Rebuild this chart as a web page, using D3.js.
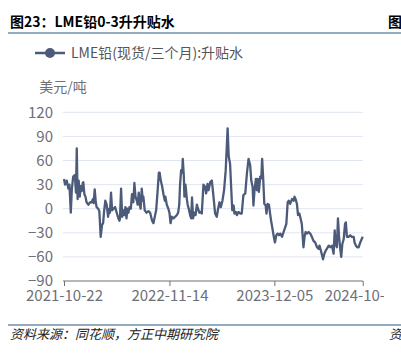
<!DOCTYPE html>
<html><head><meta charset="utf-8">
<script src="https://cdn.jsdelivr.net/npm/d3@7/dist/d3.min.js"></script>
<style>html,body{margin:0;padding:0;background:#fff;}svg{display:block;}</style>
</head><body>
<svg id="c" width="401" height="356"></svg>
<script>
const titleText = "图23：LME铅0-3升升贴水";
const seriesName = "LME铅(现货/三个月):升贴水";
const unitText = "美元/吨";
const sourceText = "资料来源：同花顺，方正中期研究院";
const yTicks = [-90, -60, -30, 0, 30, 60, 90, 120];
const xTickLabels = ["2021-10-22", "2022-11-14", "2023-12-05", "2024-10-25"];
const dates = [
"2021-10-22","2021-10-26","2021-11-01","2021-11-07","2021-11-11","2021-11-16","2021-11-20","2021-11-25","2021-12-01","2021-12-05",
"2021-12-08","2021-12-11","2021-12-15","2021-12-19","2021-12-22","2021-12-26","2021-12-30","2022-01-01","2022-01-05","2022-01-09",
"2022-01-13","2022-01-20","2022-01-26","2022-02-01","2022-02-05","2022-02-08","2022-02-12","2022-02-16","2022-02-19","2022-02-25",
"2022-03-01","2022-03-06","2022-03-11","2022-03-15","2022-03-18","2022-03-23","2022-03-28","2022-04-02","2022-04-07","2022-04-09",
"2022-04-13","2022-04-17","2022-04-22","2022-04-28","2022-05-04","2022-05-10","2022-05-14","2022-05-16","2022-05-20","2022-05-24",
"2022-05-29","2022-06-01","2022-06-05","2022-06-09","2022-06-12","2022-06-16","2022-06-20","2022-06-25","2022-06-29","2022-07-04",
"2022-07-08","2022-07-12","2022-07-17","2022-07-20","2022-07-24","2022-07-28","2022-07-31","2022-08-04","2022-08-08","2022-08-10",
"2022-08-15","2022-08-22","2022-08-29","2022-09-04","2022-09-11","2022-09-16","2022-09-21","2022-09-26","2022-10-01","2022-10-06",
"2022-10-09","2022-10-13","2022-10-18","2022-10-23","2022-10-28","2022-10-30","2022-11-04","2022-11-10","2022-11-14","2022-11-18",
"2022-11-23","2022-11-29","2022-12-05","2022-12-11","2022-12-16","2022-12-20","2022-12-23","2022-12-27","2022-12-31","2023-01-02",
"2023-01-06","2023-01-08","2023-01-12","2023-01-17","2023-01-20","2023-01-24","2023-01-29","2023-02-02","2023-02-05","2023-02-09",
"2023-02-13","2023-02-18","2023-02-23","2023-02-27","2023-03-04","2023-03-07","2023-03-13","2023-03-19","2023-03-25","2023-03-29",
"2023-04-03","2023-04-07","2023-04-13","2023-04-19","2023-04-25","2023-05-01","2023-05-07","2023-05-11","2023-05-17","2023-05-22",
"2023-05-28","2023-06-03","2023-06-09","2023-06-16","2023-06-20","2023-06-25","2023-06-29","2023-07-03","2023-07-08","2023-07-11",
"2023-07-16","2023-07-20","2023-07-26","2023-08-01","2023-08-07","2023-08-13","2023-08-20","2023-08-26","2023-09-01","2023-09-07",
"2023-09-11","2023-09-16","2023-09-19","2023-09-23","2023-09-28","2023-10-02","2023-10-05","2023-10-09","2023-10-14","2023-10-18",
"2023-10-21","2023-10-25","2023-10-29","2023-11-03","2023-11-06","2023-11-10","2023-11-15","2023-11-20","2023-11-23","2023-11-27",
"2023-12-02","2023-12-07","2023-12-12","2023-12-17","2023-12-22","2023-12-27","2024-01-02","2024-01-08","2024-01-14","2024-01-18",
"2024-01-23","2024-01-27","2024-02-01","2024-02-08","2024-02-14","2024-02-17","2024-02-21","2024-02-26","2024-03-01","2024-03-06",
"2024-03-09","2024-03-15","2024-03-21","2024-03-25","2024-03-29","2024-04-03","2024-04-09","2024-04-15","2024-04-21","2024-04-27",
"2024-05-03","2024-05-10","2024-05-16","2024-05-19","2024-05-24","2024-06-01","2024-06-06","2024-06-11","2024-06-15","2024-06-22",
"2024-06-28","2024-07-04","2024-07-10","2024-07-14","2024-07-17","2024-07-22","2024-07-26","2024-07-30","2024-08-04","2024-08-07",
"2024-08-11","2024-08-16","2024-08-21","2024-08-24","2024-08-28","2024-09-03","2024-09-09","2024-09-15","2024-09-22","2024-09-25",
"2024-09-30","2024-10-05","2024-10-10","2024-10-16","2024-10-25"
];
const values = [
37,30,35,25,30,-5,25,40,42,20,
75,12,35,15,28,22,32,33,18,15,
8,5,8,8,12,7,24,8,2,0,
-3,-35,-20,-18,-5,10,5,-10,0,-5,
20,-2,0,2,-5,-12,-15,-12,25,-10,
-2,-8,2,-12,0,-5,2,0,18,8,
32,15,10,5,20,5,0,25,10,15,
-2,-5,-3,-5,-15,-18,-10,-2,20,45,
45,35,28,18,10,15,5,0,-5,-18,
-10,-12,-10,-8,-5,5,30,48,45,62,
40,15,30,12,5,0,-8,-12,14,-12,
-5,-8,5,0,-5,-4,-6,30,27,19,
31,23,33,35,15,-6,-10,-2,8,2,
10,23,48,100,65,56,27,-2,4,-6,
-4,-8,-4,-6,-6,17,19,44,62,54,
35,27,4,23,37,23,37,21,40,38,
62,37,6,4,-6,6,5,-8,-15,-23,
-33,-42,-33,-31,-33,-31,-35,-29,-23,-19,
8,10,6,12,10,15,12,6,-8,-6,
-10,-19,-48,-35,-29,-31,-29,-31,-35,-40,
-42,-48,-50,-46,-52,-63,-56,-52,-50,-46,
-48,-46,-56,-27,-44,-48,-12,-35,-52,-60,
-44,-38,-19,-17,-35,-35,-33,-35,-35,-42,
-46,-48,-48,-42,-35
];

const svg = d3.select("#c");
const parse = d3.timeParse("%Y-%m-%d");
const data = dates.map((d, i) => ({ date: parse(d), value: values[i] }));
const lineColor = "#4b5b79";
const axisColor = "#6e7079";
const font = "'Noto Sans CJK SC', 'Noto Sans', sans-serif";

// header
svg.append("text").attr("x", 10).attr("y", 27)
  .attr("font-family", font).attr("font-size", 14).attr("font-weight", "bold")
  .attr("fill", "#000").text(titleText);
svg.append("text").attr("x", 388).attr("y", 27)
  .attr("font-family", font).attr("font-size", 14).attr("font-weight", "bold")
  .attr("fill", "#000").text("图");
svg.append("line").attr("x1", 8).attr("x2", 401).attr("y1", 33).attr("y2", 33)
  .attr("stroke", "#2b587f").attr("stroke-width", 1.2);

// footer
svg.append("line").attr("x1", 8).attr("x2", 401).attr("y1", 325).attr("y2", 325)
  .attr("stroke", "#2b587f").attr("stroke-width", 1.2);
svg.append("text").attr("x", 10).attr("y", 339)
  .attr("font-family", font).attr("font-size", 13).attr("font-style", "italic")
  .attr("fill", "#222").text(sourceText);
svg.append("text").attr("x", 389).attr("y", 339)
  .attr("font-family", font).attr("font-size", 13).attr("font-style", "italic")
  .attr("fill", "#222").text("资");

// chart group clipped like the reference
svg.append("clipPath").attr("id", "chartclip")
  .append("rect").attr("x", 0).attr("y", 36).attr("width", 384).attr("height", 286);
const g = svg.append("g").attr("clip-path", "url(#chartclip)");

const x = d3.scaleTime()
  .domain([parse(xTickLabels[0]), parse(xTickLabels[xTickLabels.length - 1])])
  .range([64, 362.7]);
const y = d3.scaleLinear().domain([-90, 120]).range([281, 112.3]);

// gridlines
g.append("g").selectAll("line").data(yTicks.filter(t => t !== -90)).join("line")
  .attr("x1", 63).attr("x2", 363).attr("y1", d => y(d)).attr("y2", d => y(d))
  .attr("stroke", "#e0e6f1").attr("stroke-width", 1);

// y axis labels
const yAxis = d3.axisLeft(y).tickValues(yTicks).tickSize(0).tickPadding(10);
const ya = g.append("g").attr("transform", "translate(63,0)").call(yAxis);
ya.select(".domain").remove();
ya.selectAll("text").attr("font-family", font).attr("font-size", 15).attr("fill", axisColor);

// x axis
const xAxis = d3.axisBottom(x).tickValues(xTickLabels.map(parse))
  .tickFormat(d3.timeFormat("%Y-%m-%d")).tickSize(5).tickPadding(4);
const xa = g.append("g").attr("transform", "translate(0,281)").call(xAxis);
xa.select(".domain").attr("stroke", axisColor).attr("d", "M63,0H363");
xa.selectAll(".tick line").attr("stroke", axisColor);
xa.selectAll("text").attr("font-family", font).attr("font-size", 15).attr("fill", axisColor);

// unit label
g.append("text").attr("x", 63).attr("y", 92).attr("text-anchor", "middle")
  .attr("font-family", font).attr("font-size", 14).attr("fill", axisColor).text(unitText);

// line
const line = d3.line().x(d => x(d.date)).y(d => y(d.value));
g.append("path").datum(data).attr("d", line)
  .attr("fill", "none").attr("stroke", lineColor).attr("stroke-width", 2.3)
  .attr("stroke-linejoin", "round");

// legend
const lg = g.append("g").attr("transform", "translate(35,53)");
lg.append("line").attr("x1", 0).attr("x2", 30).attr("y1", 0).attr("y2", 0)
  .attr("stroke", lineColor).attr("stroke-width", 2.5);
lg.append("circle").attr("cx", 15).attr("cy", 0).attr("r", 5).attr("fill", lineColor);
lg.append("text").attr("x", 36).attr("y", 5)
  .attr("font-family", font).attr("font-size", 14).attr("fill", "#555").text(seriesName);
</script>
</body></html>
